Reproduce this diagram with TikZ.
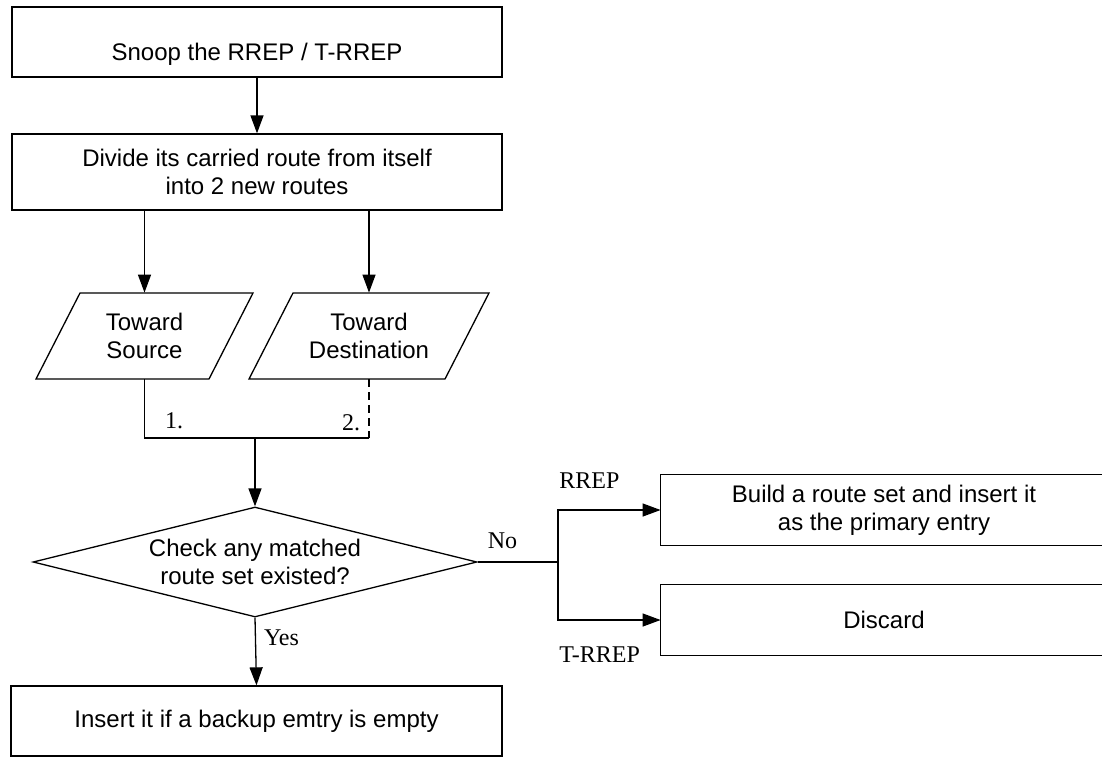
\documentclass[tikz,border=0pt]{standalone}
\usepackage{fontspec}
\setmainfont{Liberation Sans}
\newfontfamily\lblfont{Liberation Serif}
\usetikzlibrary{arrows.meta,shapes.geometric,calc}

\tikzset{
  base/.style={font=\fontsize{12}{14}\selectfont, align=center},
  procbox/.style={base, draw, rectangle, line width=0.65pt, inner sep=0pt},
  openbox/.style={base, rectangle, inner sep=0pt},
  iobox/.style={base, rectangle, inner sep=0pt, minimum height=43pt},
  decision/.style={base, draw, diamond, aspect=4, inner sep=0pt, line width=0.65pt,
                   minimum width=222pt, minimum height=55pt},
  flow/.style={line width=0.65pt},
  arr/.style={flow, -{Triangle[length=9pt,width=6.5pt]}},
  tag/.style={font=\lblfont\fontsize{12}{14}\selectfont, inner sep=0pt},
}

\begin{document}
\begin{tikzpicture}[x=0.5pt, y=-0.5pt]
  \useasboundingbox[fill=white] (0,0) rectangle (1102,756);

  % main column
  \node[procbox, minimum width=245pt, minimum height=35pt,
        text height=18pt, text depth=0pt] (snoop) at (257,42) {Snoop the RREP / T-RREP};
  \node[procbox, minimum width=245pt, minimum height=38pt] (divide) at (257,172)
        {Divide its carried route from itself\\into 2 new routes};

  % the two derived routes
  \node[iobox] (src) at (144.5,336) {Toward\\Source};
  \node[iobox] (dst) at (369,336) {Toward\\Destination};
  \draw[flow] ($(src.center)+(-64.5,-43)$) -- ($(src.center)+(108.5,-43)$)
              -- ($(src.center)+(64.5,43)$) -- ($(src.center)+(-108.5,43)$) -- cycle;
  \draw[flow] ($(dst.center)+(-76,-43)$) -- ($(dst.center)+(120,-43)$)
              -- ($(dst.center)+(76,43)$) -- ($(dst.center)+(-120,43)$) -- cycle;

  % decision and outcomes
  \node[decision] (check) at (255,562) {Check any matched\\route set existed?};
  \node[procbox, minimum width=245.5pt, minimum height=35pt] (insert) at (256.5,721)
        {Insert it if a backup emtry is empty};
  \node[openbox, minimum width=223pt, minimum height=35pt] (build) at (884,510)
        {Build a route set and insert it\\as the primary entry};
  \node[openbox, minimum width=223pt, minimum height=35pt] (discard) at (884,620)
        {Discard};
  % these two frames run on past the right edge of the page
  \draw[flow] (build.north west) rectangle ([xshift=20pt]build.south east);
  \draw[flow] (discard.north west) rectangle ([xshift=20pt]discard.south east);

  \coordinate (join) at (255,438);
  \coordinate (fork) at (558,562);

  % connectors
  \draw[arr] (snoop) -- (divide);
  \draw[arr] (divide.south -| src.north) -- (src.north);
  \draw[arr] (divide.south -| dst.north) -- (dst.north);
  \draw[flow] (src.south) |- (dst.south |- join);
  \draw[flow, dash pattern=on 4pt off 2.5pt] (dst.south) -- (dst.south |- join);
  \draw[arr] (join) -- (check.north);
  \draw[arr] (check.south) -- (insert.north);
  \draw[flow] (check.east) -- (fork);
  \draw[arr] (fork) |- (build.west);
  \draw[arr] (fork) |- (discard.west);

  % labels
  \node[tag] (n1) at (174,421) {1.};
  \node[tag] (n2) at (351,423) {2.};
  \node[tag] (yes) at (281.5,638) {Yes};
  \node[tag] (no) at (502.5,541) {No};
  \node[tag, anchor=west] (rrep) at (559,481) {RREP};
  \node[tag, anchor=west] (trrep) at (559,655) {T-RREP};
\end{tikzpicture}
\end{document}
